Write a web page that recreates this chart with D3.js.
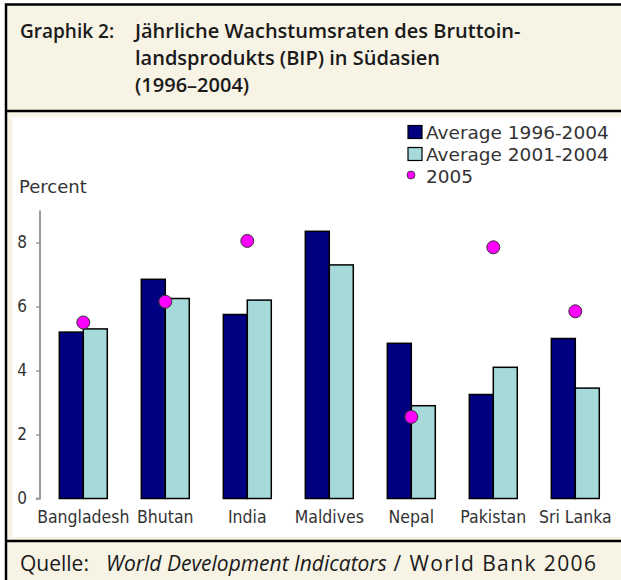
<!DOCTYPE html>
<html>
<head>
<meta charset="utf-8">
<script src="https://cdn.jsdelivr.net/npm/d3@7"></script>
<style>
  body { margin: 0; background: #fff; }
  svg { display: block; }
</style>
</head>
<body>
<script>
// values
const categories = ["Bangladesh", "Bhutan", "India", "Maldives", "Nepal", "Pakistan", "Sri Lanka"];
const avg1996_2004 = [5.2, 6.85, 5.75, 8.35, 4.85, 3.25, 5.0];
const avg2001_2004 = [5.3, 6.25, 6.2, 7.3, 2.9, 4.1, 3.45];
const growth2005 = [5.5, 6.15, 8.05, null, 2.55, 7.85, 5.85];
const yTicks = [0, 2, 4, 6, 8];
const legendLabels = ["Average 1996-2004", "Average 2001-2004", "2005"];
const titleLabel = "Graphik 2:";
const titleLines = ["Jährliche Wachstumsraten des Bruttoin-", "landsprodukts (BIP) in Südasien", "(1996–2004)"];

const width = 621, height = 580;
const cream = "#f7f3e5";
const dark = "#000080", light = "#a6dada", pink = "#ff00ff";

const svg = d3.select("body").append("svg")
  .attr("width", width)
  .attr("height", height);

// frame + cream boxes
svg.append("rect")
  .attr("x", 6).attr("y", 4.5)
  .attr("width", 700).attr("height", 700)
  .attr("fill", cream)
  .attr("stroke", "#000")
  .attr("stroke-width", 2.5);

svg.append("rect")
  .attr("x", 12.5).attr("y", 117)
  .attr("width", 620).attr("height", 420)
  .attr("fill", "#fff");

svg.selectAll("line.sep")
  .data([111, 541])
  .enter().append("line")
  .attr("class", "sep")
  .attr("x1", 6).attr("x2", width)
  .attr("y1", d => d).attr("y2", d => d)
  .attr("stroke", "#000")
  .attr("stroke-width", 2.5);

// header
const head = svg.append("g")
  .attr("font-family", "'Open Sans', sans-serif")
  .attr("font-weight", 600)
  .attr("font-size", 20)
  .attr("fill", "#1a1a1a");

head.append("text")
  .attr("x", 20).attr("y", 38)
  .attr("font-size", 19)
  .text(titleLabel);

head.selectAll("text.line")
  .data(titleLines)
  .enter().append("text")
  .attr("class", "line")
  .attr("x", 135)
  .attr("y", (d, i) => 38 + i * 27)
  .text(d => d);

// footer
const foot = svg.append("g")
  .attr("font-family", "'Open Sans', sans-serif")
  .attr("font-size", 21)
  .attr("fill", "#1a1a1a");

foot.append("text")
  .attr("x", 20).attr("y", 571)
  .text("Quelle:");

const src = foot.append("text")
  .attr("x", 106).attr("y", 571);
src.append("tspan").attr("font-style", "italic").text("World Development Indicators");
src.append("tspan").attr("letter-spacing", 1.4).text(" / World Bank 2006");

// chart
const x = d3.scaleBand()
  .domain(categories)
  .range([42.3, 616.3])
  .paddingInner(0.415)
  .paddingOuter(0.2075);

const xSub = d3.scaleBand()
  .domain([0, 1])
  .range([0, x.bandwidth()]);

const y = d3.scaleLinear()
  .domain([0, 9])
  .range([498.5, 210.5]);

const yAxis = d3.axisLeft(y)
  .tickValues(yTicks)
  .tickSize(4)
  .tickPadding(9);

const gy = svg.append("g")
  .attr("transform", "translate(40,0)")
  .call(yAxis);

gy.select(".domain")
  .attr("stroke", "#9a9a9a")
  .attr("stroke-width", 2)
  .attr("d", `M-4,${y(0)}H0V${y(9)}`);
gy.selectAll(".tick line").attr("stroke", "#9a9a9a").attr("stroke-width", 1.5);
gy.selectAll(".tick text")
  .attr("font-family", "'DejaVu Sans Condensed', 'DejaVu Sans', sans-serif")
  .attr("font-stretch", "condensed")
  .attr("font-size", 17)
  .attr("fill", "#333");

svg.append("text")
  .attr("x", 19).attr("y", 193)
  .attr("font-family", "'DejaVu Sans', sans-serif")
  .attr("font-size", 18)
  .attr("fill", "#333")
  .text("Percent");

const groups = svg.append("g")
  .selectAll("g")
  .data(categories)
  .enter().append("g")
  .attr("transform", d => `translate(${x(d)},0)`);

groups.selectAll("rect")
  .data((d, i) => [avg1996_2004[i], avg2001_2004[i]])
  .enter().append("rect")
  .attr("x", (d, j) => xSub(j))
  .attr("y", d => y(d))
  .attr("width", xSub.bandwidth())
  .attr("height", d => y(0) - y(d))
  .attr("fill", (d, j) => j === 0 ? dark : light)
  .attr("stroke", "#000")
  .attr("stroke-width", 1.5);

svg.append("g")
  .selectAll("circle")
  .data(categories.map((c, i) => ({ c, v: growth2005[i] })).filter(d => d.v !== null))
  .enter().append("circle")
  .attr("cx", d => x(d.c) + x.bandwidth() / 2)
  .attr("cy", d => y(d.v))
  .attr("r", 6.5)
  .attr("fill", pink)
  .attr("stroke", "#333")
  .attr("stroke-width", 1);

svg.append("g")
  .selectAll("text")
  .data(categories)
  .enter().append("text")
  .attr("x", d => x(d) + x.bandwidth() / 2)
  .attr("y", 523)
  .attr("text-anchor", "middle")
  .attr("font-family", "'DejaVu Sans Condensed', 'DejaVu Sans', sans-serif")
  .attr("font-stretch", "condensed")
  .attr("font-size", 17.5)
  .attr("fill", "#333")
  .text(d => d);

// legend
const legend = svg.append("g")
  .attr("font-family", "'DejaVu Sans', sans-serif")
  .attr("font-size", 18.5)
  .attr("fill", "#333");

const rows = legend.selectAll("g")
  .data(legendLabels)
  .enter().append("g")
  .attr("transform", (d, i) => `translate(408,${132 + i * 22})`);

rows.filter((d, i) => i < 2).append("rect")
  .attr("x", 0).attr("y", -6.5)
  .attr("width", 14).attr("height", 13)
  .attr("fill", (d, i) => i === 0 ? dark : light)
  .attr("stroke", "#000")
  .attr("stroke-width", 1.2);

rows.filter((d, i) => i === 2).append("circle")
  .attr("cx", 3).attr("cy", -1)
  .attr("r", 4)
  .attr("fill", pink)
  .attr("stroke", "#333")
  .attr("stroke-width", 0.8);

rows.append("text")
  .attr("x", 18).attr("y", 6.5)
  .text(d => d);
</script>
</body>
</html>
